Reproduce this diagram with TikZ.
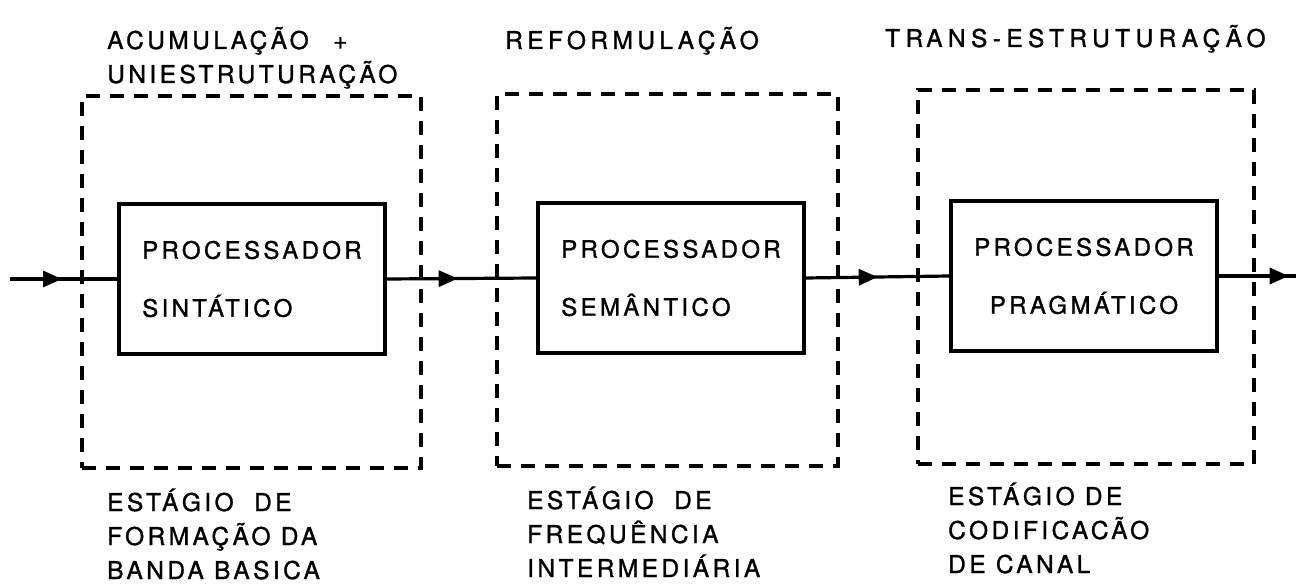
\documentclass[tikz,border=0pt]{standalone}
\usepackage{fontspec}
\setmainfont{TeX Gyre Heros}[LetterSpace=14,UprightFeatures={FakeBold=1.2}]
\usetikzlibrary{arrows.meta,decorations.markings}
\begin{document}
\begin{tikzpicture}[x=1pt,y=-1pt,
  proc/.style={draw,line width=3.4pt,minimum width=266pt,minimum height=150pt,inner sep=0pt,font=\fontsize{24}{58}\selectfont},
  stage/.style={draw,line width=3.2pt,dash pattern=on 14pt off 10pt,inner sep=0pt},
  lbl/.style={anchor=north west,inner sep=0pt,align=left,font=\fontsize{24.5}{34}\selectfont},
  flow/.style={line width=3.2pt},
  midarrow/.style={postaction={decorate},decoration={markings,mark=at position #1 with {\arrow{Triangle[length=19pt,width=16pt]}}}},
]
\useasboundingbox (0,0) rectangle (1296,585);
% stage boxes
\node[stage,minimum width=339pt,minimum height=372pt] (s1) at (251.5,282) {};
\node[stage,minimum width=341pt,minimum height=372pt] (s2) at (667.5,280) {};
\node[stage,minimum width=336pt,minimum height=374pt] (s3) at (1086,277) {};
% processors
\node[proc,align=left] (p1) at (252,279) {PROCESSADOR\\ SINTÁTICO};
\node[proc,align=left] (p2) at (671,278) {PROCESSADOR\\ SEMÂNTICO};
\node[proc,align=center] (p3) at (1084,276) {PROCESSADOR\\PRAGMÁTICO};
% connectors
\coordinate (in) at (10,279);
\coordinate (out) at (1296,276);
\draw[flow,midarrow=52pt] (in) -- (p1.west);
\draw[flow,midarrow=71pt] (p1.east) -- (p2.west);
\draw[flow,midarrow=72pt] (p2.east) -- (p3.west);
\draw[flow,midarrow=70pt] (p3.east) -- (out);
% labels
\node[lbl] (t1) at (107,25) {\strut ACUMULAÇÃO\quad +\\UNIESTRUTURAÇÃO};
\node[lbl] (t2) at (505,25) {\addfontfeatures{LetterSpace=18}\strut REFORMULAÇÃO};
\node[lbl] (t3) at (885,23) {\addfontfeatures{LetterSpace=22}\strut TR\hspace{3pt}ANS-ESTRUTURAÇÃO};
\node[lbl] (b1) at (107,487) {\strut ESTÁGIO\ \ DE\\FORMAÇÃO DA\\BANDA BASICA};
\node[lbl] (b2) at (527,485) {\strut ESTÁGIO\ \ DE\\FREQUÊNCIA\\INTERMEDIÁRIA};
\node[lbl] (b3) at (948,481) {\strut ESTÁGIO\ DE\\CODIFICACÃO\\DE CANAL};
\end{tikzpicture}
\end{document}
